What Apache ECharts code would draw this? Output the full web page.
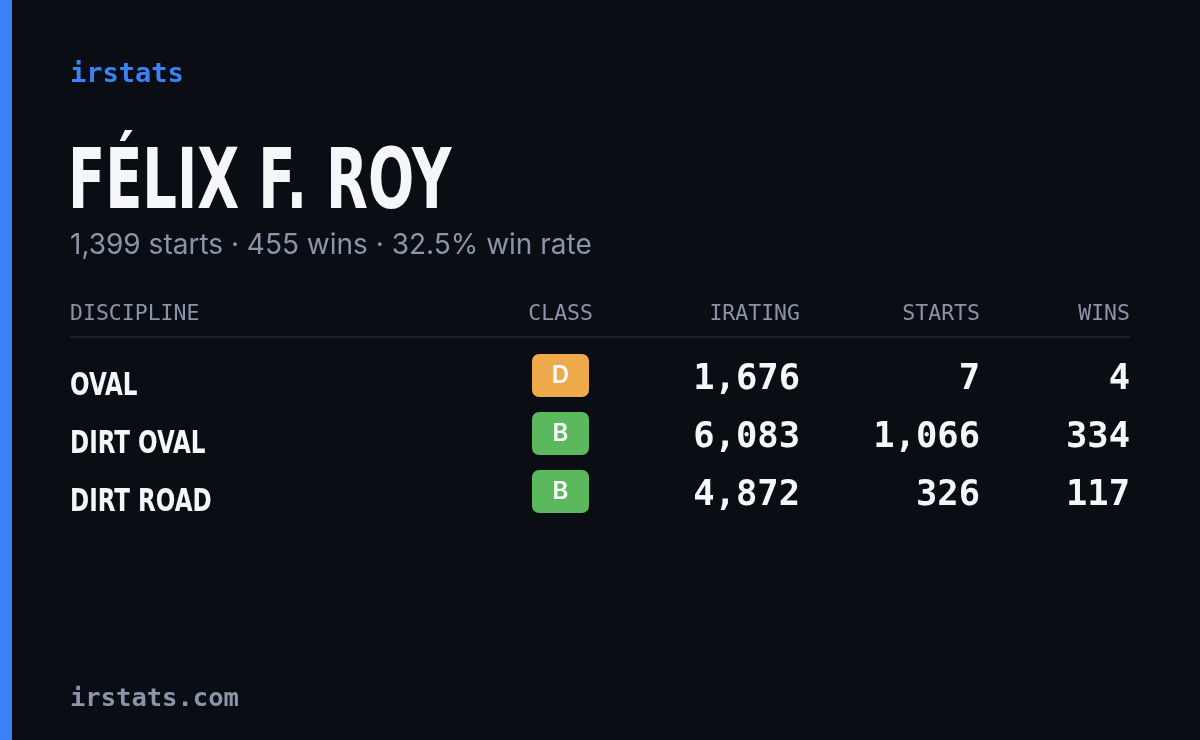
<!DOCTYPE html>
<html><head><meta charset="utf-8">
<script src="https://cdn.jsdelivr.net/npm/echarts@6/dist/echarts.min.js"></script>
<style>html,body{margin:0;background:#0a0d14}#main{width:1200px;height:740px}</style>
</head><body><div id="main"></div>
<script>
var brand = 'irstats';
var driver = 'FÉLIX F. ROY';
var summary = '1,399 starts · 455 wins · 32.5% win rate';
var headers = ['DISCIPLINE', 'CLASS', 'IRATING', 'STARTS', 'WINS'];
var disciplines = ['OVAL', 'DIRT OVAL', 'DIRT ROAD'];
var classes = ['D', 'B', 'B'];
var iratings = [1676, 6083, 4872];
var starts = [7, 1066, 326];
var wins = [4, 334, 117];
var footer = 'irstats.com';

var classColor = {D: '#efab4b', B: '#5cb85c', A: '#3b82f6', C: '#f5d142', R: '#e05c5c'};
var mono = '"DejaVu Sans Mono", monospace';
var cond = '"DejaVu Sans Condensed", "DejaVu Sans", sans-serif';
function fmt(n){ return n.toLocaleString('en-US'); }

var g = [
  {type:'rect', shape:{x:0,y:0,width:12,height:740}, style:{fill:'#3b82f6'}},
  {type:'text', x:70, y:75, style:{text:brand, fill:'#3b82f6', font:'bold 27px '+mono, textVerticalAlign:'middle'}},
  {type:'text', x:68, y:186, scaleX:0.72, style:{text:driver, fill:'#f5f6f8', font:'bold 84px '+cond, textVerticalAlign:'middle'}},
  {type:'text', x:70, y:246, style:{text:summary, fill:'#8a96a8', font:'28px Inter, sans-serif', textVerticalAlign:'middle'}},
  {type:'rect', shape:{x:70,y:336,width:1060,height:2}, style:{fill:'#1c212c'}},
  {type:'text', x:70, y:699, style:{text:footer, fill:'#8a96a8', font:'bold 25.5px '+mono, textVerticalAlign:'middle'}}
];
var hx = [70, 593, 800, 980, 1130];
headers.forEach(function(h,i){
  g.push({type:'text', x:hx[i], y:314, style:{text:h, fill:'#8a94a6', font:'21.5px '+mono, textAlign:i===0?'left':'right', textVerticalAlign:'middle'}});
});
disciplines.forEach(function(d,i){
  var y = 380 + i*58;
  g.push({type:'text', x:70, y:y+7, scaleX:0.8, style:{text:d, fill:'#f5f6f8', font:'bold 32px '+cond, textVerticalAlign:'middle'}});
  g.push({type:'rect', shape:{x:532,y:y-26,width:57,height:43,r:7}, style:{fill:classColor[classes[i]]}});
  g.push({type:'text', x:560.5, y:y-4, style:{text:classes[i], fill:'#ffffff', font:'600 24px Inter, sans-serif', textAlign:'center', textVerticalAlign:'middle'}});
  [iratings[i], starts[i], wins[i]].forEach(function(v,j){
    g.push({type:'text', x:hx[j+2], y:y, style:{text:fmt(v), fill:'#f5f6f8', font:'bold 35.5px '+mono, textAlign:'right', textVerticalAlign:'middle'}});
  });
});
var chart = echarts.init(document.getElementById('main'));
chart.setOption({backgroundColor:'#0a0d14', graphic:g});
</script></body></html>
